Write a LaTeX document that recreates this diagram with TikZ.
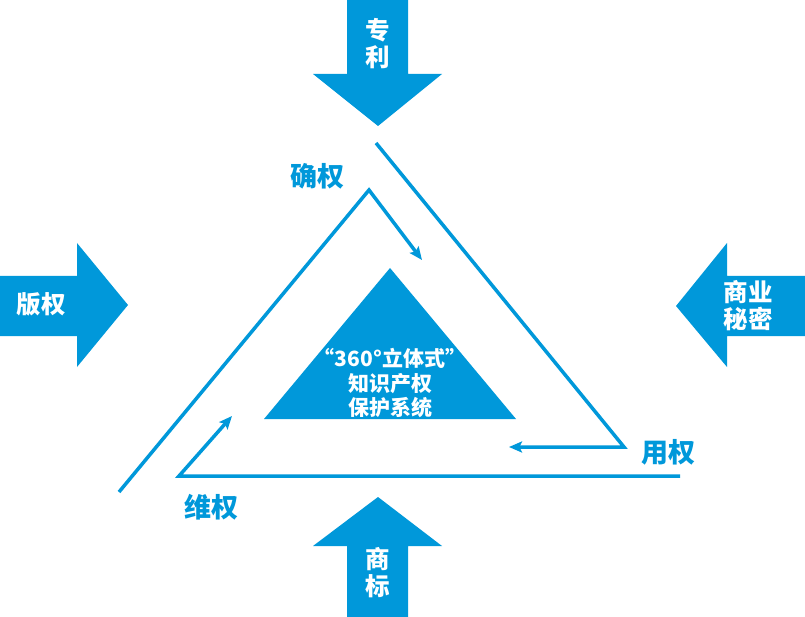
\documentclass[tikz,border=0pt]{standalone}
\usepackage{fontspec}
\newfontfamily\cjk{Noto Sans CJK SC}
\usetikzlibrary{arrows.meta}
\definecolor{ipblue}{RGB}{0,152,218}
\begin{document}
\begin{tikzpicture}[x=1pt,y=-1pt,
  blk/.style={fill=ipblue,draw=none},
  lbl/.style={font=\cjk\bfseries\fontsize{24.5}{27}\selectfont,text=white,align=center,inner sep=0pt},
  stage/.style={font=\cjk\bfseries\fontsize{27}{29}\selectfont,text=ipblue,inner sep=0pt},
  core/.style={font=\cjk\bfseries\fontsize{21}{24.5}\selectfont,text=white,align=center,inner sep=0pt},
  flow/.style={draw=ipblue,line width=3.5pt,line join=miter},
  tip/.style={-{Stealth[length=13pt,width=11pt,inset=2.5pt]}}]
\fill[white] (0,0) rectangle (805,617);
\useasboundingbox (0,0) rectangle (805,617);
% top arrow
\fill[blk] (347,0) -- (408,0) -- (408,74) -- (442,74) -- (378,126) -- (313,74) -- (347,74) -- cycle;
\node[lbl] (patent) at (378,44) {专\\利};
% left arrow
\fill[blk] (0,276) -- (77,276) -- (77,243) -- (128,305) -- (77,367) -- (77,336) -- (0,336) -- cycle;
\node[lbl] (copyright) at (41,304) {版权};
% right arrow
\fill[blk] (805,276) -- (727,276) -- (727,243) -- (676,306) -- (727,367) -- (727,336) -- (805,336) -- cycle;
\node[lbl] (secret) at (748,306) {商业\\秘密};
% bottom arrow
\fill[blk] (347,617) -- (408,617) -- (408,546) -- (442,546) -- (378,497) -- (313,546) -- (347,546) -- cycle;
\node[lbl] (trademark) at (378,573) {商\\标};
% central triangle
\fill[blk] (390,268) -- (516,419) -- (264,419) -- cycle;
\node[core] (system) at (390,383) {“360°立体式”\\知识产权\\保护系统};
% stage labels
\node[stage] (confirm) at (317,176) {确权};
\node[stage] (use) at (668,452) {用权};
\node[stage] (defend) at (211,507) {维权};
% flow lines
\coordinate (r1) at (376,143);
\coordinate (r2) at (624,447);
\coordinate (r3) at (509,447);
\coordinate (l1) at (119,492);
\coordinate (l2) at (369,190);
\coordinate (l3) at (422,260);
\coordinate (b1) at (680,476);
\coordinate (b2) at (179,476);
\coordinate (b3) at (232,416);
\draw[flow,tip] (r1) -- (r2) -- (r3);
\draw[flow,tip] (l1) -- (l2) -- (l3);
\draw[flow,tip] (b1) -- (b2) -- (b3);
\end{tikzpicture}
\end{document}
